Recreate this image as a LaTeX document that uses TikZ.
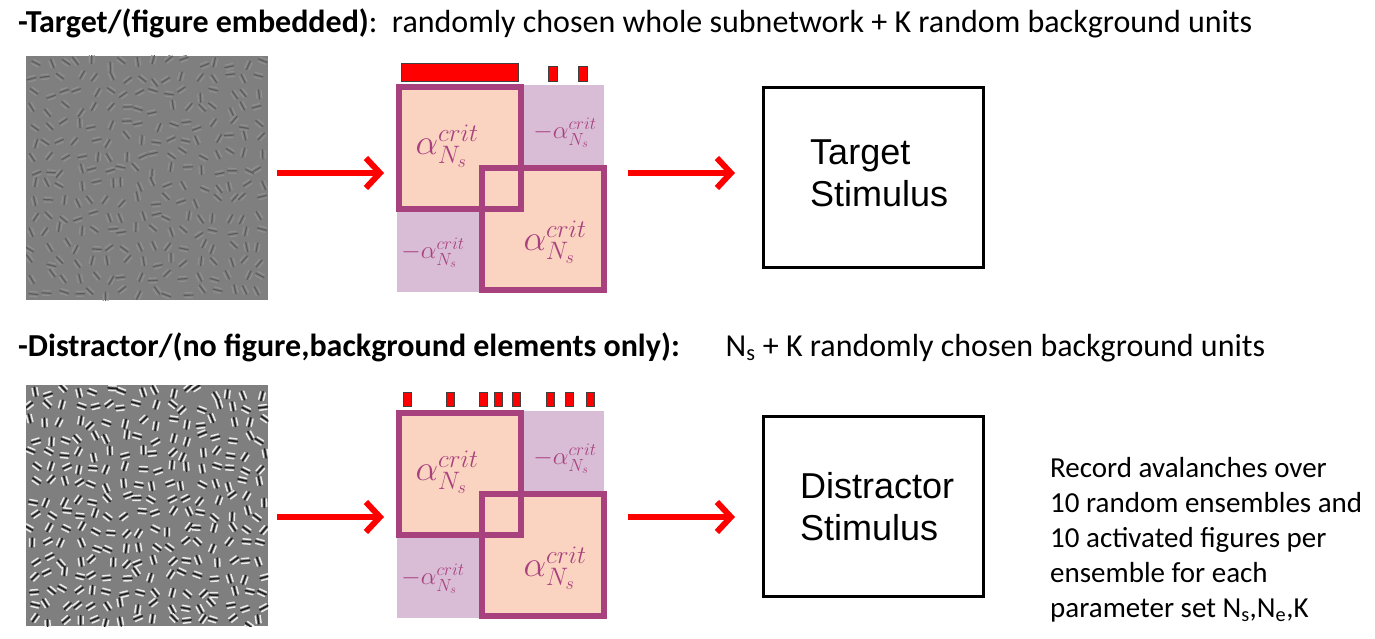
\RequirePackage{fix-cm}
\documentclass[tikz,border=0pt]{standalone}
\usepackage{fontspec}
\setmainfont{Carlito}
\newfontfamily\stimfont{Liberation Sans}
\usetikzlibrary{arrows.meta,calc}

\definecolor{matpurple}{HTML}{D9BDD7}
\definecolor{matorange}{HTML}{FBD4C1}
\definecolor{matborder}{HTML}{A8427E}
\definecolor{gaborbg}{HTML}{7F7F7F}
\definecolor{unitred}{HTML}{FF0000}

\tikzset{
  heading/.style={anchor=base west, inner sep=0pt, font=\fontsize{32}{38}\selectfont},
  flowarrow/.style={draw=unitred, line width=6pt,
    -{Straight Barb[length=14pt,width=30pt,line width=6pt]}},
  stimbox/.style={draw=black, line width=3pt, anchor=north west, inner sep=0pt,
    minimum width=220pt, minimum height=180pt},
  stimtext/.style={anchor=base west, inner sep=0pt, align=left,
    font=\stimfont\fontsize{36}{42}\selectfont},
  gaborimg/.style={fill=gaborbg, anchor=north west, inner sep=0pt,
    minimum width=242pt, minimum height=244pt},
  blockbg/.style={fill=matpurple, anchor=north west, inner sep=0pt,
    minimum width=207pt, minimum height=207pt},
  blockfill/.style={fill=matorange, anchor=north west, inner sep=0pt,
    minimum width=122pt, minimum height=122pt},
  blockframe/.style={draw=matborder, line width=6pt},
  bigcoef/.style={text=matborder, inner sep=0pt, font=\fontsize{36}{36}\selectfont},
  smallcoef/.style={text=matborder, inner sep=0pt, font=\fontsize{25}{25}\selectfont},
  unitbar/.style={fill=unitred, draw=black!75, line width=0.8pt},
}

% one Gabor element: centre, orientation, dark and light stroke colours, stroke width
\newcommand\gaborpatch[6]{%
  \begin{scope}[shift={(#1,#2)}, rotate=#3, line cap=round]
    \draw[#5, line width=#6] (-2.4,-3.8) -- (-2.4,3.8) (2.4,-3.8) -- (2.4,3.8);
    \draw[#4, line width=#6] (0,-4.6) -- (0,4.6);
  \end{scope}}

% field of Gabor elements filling the image node #1
\newcommand\gaborfield[5]{%
  \begin{scope}
    \clip (#1.north west) rectangle (#1.south east);
    \pgfmathsetseed{#2}
    \foreach \i in {0,...,15}{
      \foreach \j in {0,...,15}{
        \pgfmathsetmacro\gx{7+\i*15.2+rand*4.5}
        \pgfmathsetmacro\gy{7+\j*15.3+rand*4.5}
        \pgfmathsetmacro\ga{rnd*180}
        \gaborpatch{$(#1.north west)+(\gx,\gy)$}{0}{\ga}{#3}{#4}{#5}
      }
    }
  \end{scope}}

% coupling matrix: two overlapping sub-network blocks on a background block
\newcommand\couplingmatrix[2]{%
  \begin{scope}[yshift=-#2pt]
    \node[blockbg] (#1bg) at (397,85) {};
    \node[blockfill] (#1A) at (399,87) {};
    \node[blockfill] (#1B) at (482,168) {};
    \draw[blockframe] (#1A.north west) rectangle (#1A.south east);
    \draw[blockframe] (#1B.north west) rectangle (#1B.south east);
    \node[bigcoef] (#1a) at (447,146) {$\alpha^{crit}_{N_s}$};
    \node[bigcoef] (#1b) at (555,242) {$\alpha^{crit}_{N_s}$};
    \node[smallcoef] (#1c) at (565,133) {$-\alpha^{crit}_{N_s}$};
    \node[smallcoef] (#1d) at (433,253) {$-\alpha^{crit}_{N_s}$};
  \end{scope}}

\begin{document}
\begin{tikzpicture}[x=1pt, y=-1pt]
  \useasboundingbox (0,0) rectangle (1375,639);

  % ---------- target row ----------
  \node[heading] (titleT) at (18,33)
    {\textbf{-Target/(figure embedded)}:\ \ randomly chosen whole subnetwork + K random background units};

  \node[gaborimg] (imgT) at (26,56) {};
  \gaborfield{imgT}{11}{black!64}{black!44}{1.2pt}

  \couplingmatrix{T}{0}
  \node[unitbar, minimum width=117pt, minimum height=18pt, inner sep=0pt, anchor=north west] (barT1) at (401,63) {};
  \foreach \bx [count=\k] in {548,578}
    \node[unitbar, minimum width=9pt, minimum height=15pt, inner sep=0pt, anchor=north west] (barT\k') at (\bx,66) {};

  \node[stimbox] (boxT) at (762,86) {};
  \node[stimtext] (txtT) at (810,207) {Target\\Stimulus};

  \coordinate (rowT) at (0,173);
  \draw[flowarrow, shorten <=9pt, shorten >=13pt] (imgT.east |- rowT) -- (Tbg.west |- rowT);
  \draw[flowarrow, shorten <=24pt, shorten >=27pt] (Tbg.east |- rowT) -- (boxT.west |- rowT);

  % ---------- distractor row ----------
  \node[heading] (titleD) at (18,356)
    {\textbf{-Distractor/(no figure,background elements only):}\hspace{46pt}N\textsubscript{s} + K randomly chosen background units};

  \node[gaborimg, minimum height=241pt] (imgD) at (26,385) {};
  \gaborfield{imgD}{5}{black!88}{white!92!black}{1.5pt}

  \couplingmatrix{D}{326}
  \foreach \bx [count=\k] in {403,446,479,494,512,546,565,586}
    \node[unitbar, minimum width=8pt, minimum height=14pt, inner sep=0pt, anchor=north west] (barD\k) at (\bx,392) {};

  \node[stimbox] (boxD) at (762,415) {};
  \node[stimtext] (txtD) at (800,540) {Distractor\\Stimulus};

  \coordinate (rowD) at (0,517);
  \draw[flowarrow, shorten <=9pt, shorten >=13pt] (imgD.east |- rowD) -- (Dbg.west |- rowD);
  \draw[flowarrow, shorten <=24pt, shorten >=27pt] (Dbg.east |- rowD) -- (boxD.west |- rowD);

  \node[anchor=base west, inner sep=0pt, align=left, font=\fontsize{29}{35}\selectfont] (note) at (1050,617)
    {Record avalanches over\\10 random ensembles and\\10 activated figures per\\ensemble for each\\parameter set N\textsubscript{s},N\textsubscript{e},K};
\end{tikzpicture}
\end{document}
